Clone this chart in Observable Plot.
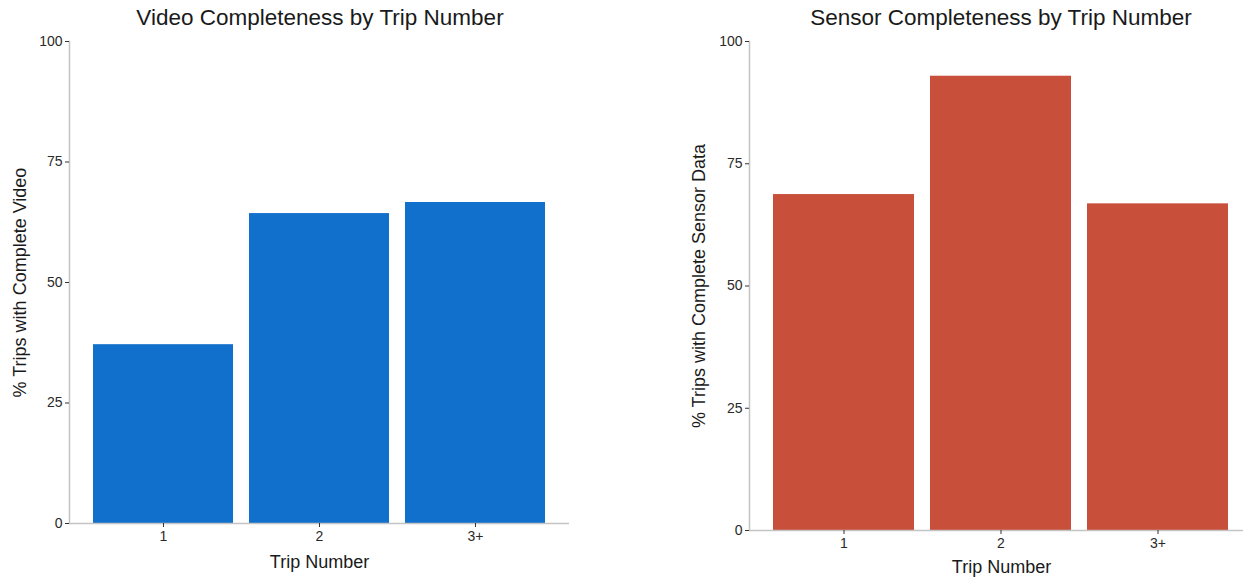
<!DOCTYPE html>
<html>
<head>
<meta charset="utf-8">
<script src="https://cdn.jsdelivr.net/npm/d3@7"></script>
<script src="https://cdn.jsdelivr.net/npm/@observablehq/plot@0.6"></script>
<style>
  html, body { margin: 0; padding: 0; background: #fff; overflow: hidden; width: 1243px; height: 577px; }
  #wrap { position: relative; width: 1243px; height: 577px; overflow: hidden; font-family: "Liberation Sans", Arial, sans-serif; }
  .panel { position: absolute; top: 0; }
  .panel svg { max-width: none !important; display: block; }
  .title { position: absolute; top: 5px; z-index: 5; font-size: 22.5px; color: #1a1a1a; white-space: nowrap; transform: translateX(-50%); font-family: "Liberation Sans", Arial, sans-serif; }
</style>
</head>
<body>
<div id="wrap">
  <div class="panel" id="left" style="left:0px; width:620px"></div>
  <div class="panel" id="right" style="left:620px; width:643px"></div>
  <div class="title" style="left:320px">Video Completeness by Trip Number</div>
  <div class="title" style="left:1001px">Sensor Completeness by Trip Number</div>
</div>
<script>
const tripNumbers = ["1", "2", "3+"];
const videoPct = [37.1, 64.3, 66.6];
const sensorPct = [68.7, 92.9, 66.8];
const yTicks = [0, 25, 50, 75, 100];

const videoData = tripNumbers.map((t, i) => ({trip: t, pct: videoPct[i]}));
const sensorData = tripNumbers.map((t, i) => ({trip: t, pct: sensorPct[i]}));

function panel(data, color, yLabel, opts) {
  return Plot.plot({
    width: opts.width,
    height: opts.height,
    marginLeft: opts.marginLeft,
    marginRight: opts.marginRight,
    marginTop: opts.marginTop,
    marginBottom: opts.marginBottom,
    style: {fontFamily: "Liberation Sans, Arial, sans-serif", fontSize: "14px", color: "#333", background: "#fff", maxWidth: "none"},
    x: {domain: tripNumbers, paddingInner: 0.1, paddingOuter: 0.15, label: null},
    y: {domain: [0, 100], label: null},
    marks: [
      Plot.barY(data, {x: "trip", y: "pct", fill: color}),
      Plot.ruleY([0], {stroke: "#c4c4c4", strokeWidth: 1.5}),
      Plot.frame({anchor: "left", stroke: "#c4c4c4", strokeWidth: 1.5}),
      Plot.axisX({tickSize: 4, tickPadding: 4, stroke: "#333", fontSize: 14, label: "Trip Number", labelAnchor: "center", labelOffset: opts.xLabelOffset, labelArrow: "none"}),
      Plot.axisY({ticks: yTicks, tickSize: 4, tickPadding: 3, stroke: "#333", fontSize: 14, label: yLabel, labelAnchor: "center", labelOffset: opts.yLabelOffset, labelArrow: "none"})
    ]
  });
}

const leftChart = panel(videoData, "#1170cc", "% Trips with Complete Video", {
  width: 620, height: 577, marginLeft: 69, marginRight: 51, marginTop: 41, marginBottom: 54,
  xLabelOffset: 44, yLabelOffset: 56
});
const rightChart = panel(sensorData, "#c84f3a", "% Trips with Complete Sensor Data", {
  width: 643, height: 577, marginLeft: 129, marginRight: 10, marginTop: 41, marginBottom: 47,
  xLabelOffset: 42, yLabelOffset: 57
});
for (const ch of [leftChart, rightChart]) {
  ch.querySelectorAll("g[aria-label='x-axis tick label'], g[aria-label='y-axis tick label']").forEach(g => {
    g.setAttribute("font-size", "14");
    g.style.fontSize = "14px";
    g.setAttribute("fill", "#2a2a2a");
  });
  ch.querySelectorAll("g[aria-label='x-axis label'] text, g[aria-label='y-axis label'] text").forEach(t => {
    t.setAttribute("font-size", "18");
    t.style.fontSize = "18px";
    t.setAttribute("fill", "#1a1a1a");
  });
}
document.getElementById("left").appendChild(leftChart);
document.getElementById("right").appendChild(rightChart);
</script>
</body>
</html>
